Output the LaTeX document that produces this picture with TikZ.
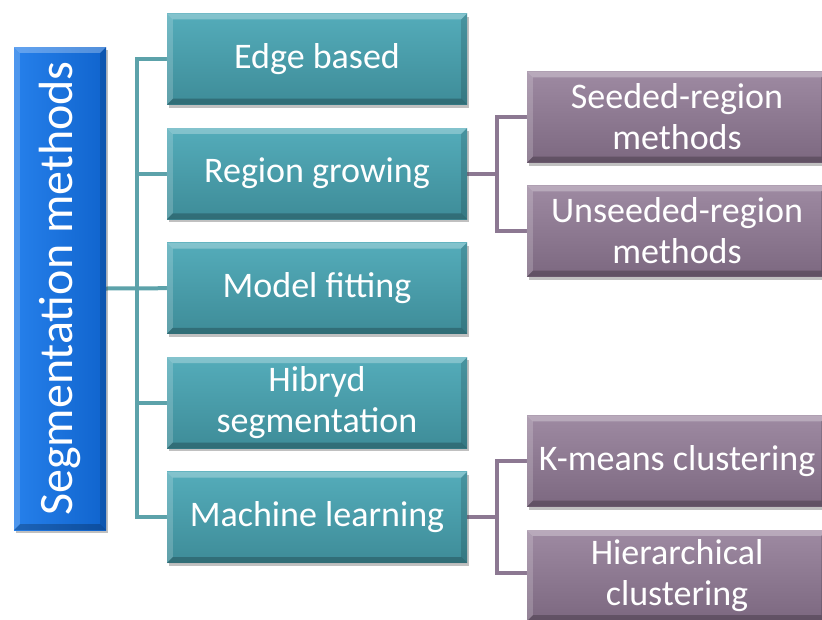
\documentclass[tikz,border=0pt]{standalone}
\usepackage{fontspec}
\setmainfont{Carlito}
\usetikzlibrary{shadows}

% palette
\definecolor{rootTop}{RGB}{38,128,235}
\definecolor{rootBot}{RGB}{16,100,205}
\definecolor{tealTop}{RGB}{84,172,186}
\definecolor{tealBot}{RGB}{62,140,152}
\definecolor{plumTop}{RGB}{158,138,162}
\definecolor{plumBot}{RGB}{124,104,128}
\definecolor{tealLine}{RGB}{92,162,170}
\definecolor{plumLine}{RGB}{140,120,146}

% layers: page, connectors, boxes
\pgfdeclarelayer{page}
\pgfdeclarelayer{wires}
\pgfsetlayers{page,wires,main}

% raised-edge effect drawn over a rectangular node
\newcommand\bevelize[1]{%
  \fill[white,opacity=.28] (#1.north west) -- (#1.north east) -- ([shift={(-6,6)}]#1.north east) -- ([shift={(6,6)}]#1.north west) -- cycle;
  \fill[white,opacity=.18] (#1.north west) -- ([shift={(6,6)}]#1.north west) -- ([shift={(6,-6)}]#1.south west) -- (#1.south west) -- cycle;
  \fill[black,opacity=.22] (#1.south west) -- ([shift={(6,-6)}]#1.south west) -- ([shift={(-6,-6)}]#1.south east) -- (#1.south east) -- cycle;
  \fill[black,opacity=.14] (#1.south east) -- ([shift={(-6,-6)}]#1.south east) -- ([shift={(-6,6)}]#1.north east) -- (#1.north east) -- cycle;
}

\tikzset{
  box/.style={rectangle, inner sep=0pt, text=white, align=center,
    font=\fontsize{36}{41}\selectfont,
    drop shadow={shadow xshift=2pt, shadow yshift=-3pt, opacity=.35, fill=black!70}},
  rootbox/.style={box, minimum width=92pt, minimum height=483pt,
    left color=rootTop, right color=rootBot, font=\fontsize{48}{52}\selectfont},
  tealbox/.style={box, minimum width=300pt, minimum height=91pt,
    top color=tealTop, bottom color=tealBot},
  plumbox/.style={box, minimum width=300pt, minimum height=91pt,
    top color=plumTop, bottom color=plumBot},
  tline/.style={draw=tealLine, line width=4pt},
  pline/.style={draw=plumLine, line width=4pt},
}

\begin{document}
\begin{tikzpicture}[x=1pt,y=-1pt]
  \useasboundingbox (0,0) rectangle (822,619);
  \clip (0,0) rectangle (822,619);
  \begin{pgfonlayer}{page}
    \fill[white] (0,0) rectangle (822,619);
  \end{pgfonlayer}

  % root
  \node[rootbox] (root) at (60,288.5) {\rotatebox{90}{Segmentation methods}};
  \bevelize{root}

  % first level
  \node[tealbox] (edge)  at (317,59)    {Edge based};
  \node[tealbox] (grow)  at (317,173.6) {Region growing};
  \node[tealbox] (model) at (317,288.2) {Model fitting};
  \node[tealbox] (hyb)   at (317,402.8) {Hibryd\\segmentation};
  \node[tealbox] (ml)    at (317,517.4) {Machine learning};
  \foreach \n in {edge,grow,model,hyb,ml} {\bevelize{\n}}

  % second level
  \node[plumbox] (seed)   at (677,117)   {Seeded-region\\methods};
  \node[plumbox] (unseed) at (677,231)   {Unseeded-region\\methods};
  \node[plumbox] (kmeans) at (677,461)   {K-means clustering};
  \node[plumbox] (hier)   at (677,575.5) {Hierarchical\\clustering};
  \foreach \n in {seed,unseed,kmeans,hier} {\bevelize{\n}}

  % vertical bus positions
  \coordinate (tbus) at (137,288.5);
  \coordinate (pbus) at (497,288.5);

  % connectors, kept behind the boxes
  \begin{pgfonlayer}{wires}
    \path[tline] (root.east) -- (model.west);
    \path[tline] (edge.west) -- (edge.west -| tbus) -- (ml.west -| tbus) -- (ml.west);
    \path[tline] (grow.west) -- (grow.west -| tbus);
    \path[tline] (hyb.west) -- (hyb.west -| tbus);

    \path[pline] (grow.east) -- (grow.east -| pbus);
    \path[pline] (seed.west) -- (seed.west -| pbus) -- (unseed.west -| pbus) -- (unseed.west);
    \path[pline] (ml.east) -- (ml.east -| pbus);
    \path[pline] (kmeans.west) -- (kmeans.west -| pbus) -- ([yshift=2.5pt]hier.west -| pbus) -- ([yshift=2.5pt]hier.west);
  \end{pgfonlayer}
\end{tikzpicture}
\end{document}
